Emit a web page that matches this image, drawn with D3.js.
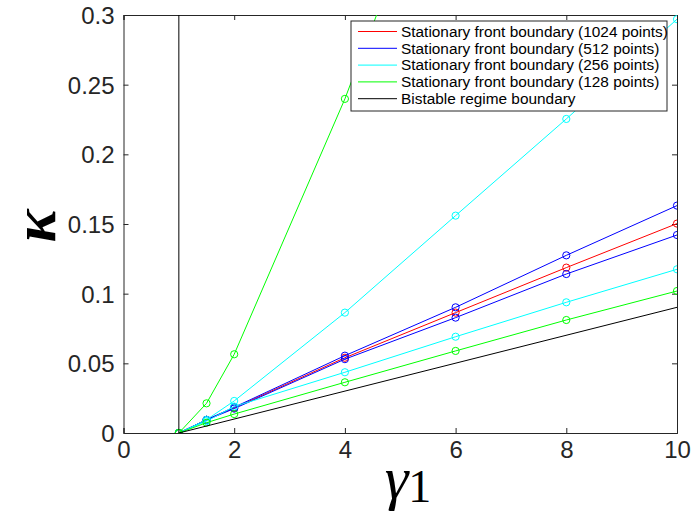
<!DOCTYPE html>
<html><head><meta charset="utf-8">
<script src="https://cdn.jsdelivr.net/npm/d3@7"></script>
<style>body{margin:0;background:#fff}svg{display:block}</style>
</head><body>
<script>
const xTicks = [0, 2, 4, 6, 8, 10];
const yTicks = [0, 0.05, 0.1, 0.15, 0.2, 0.25, 0.3];
const gammaVals = [1, 1.5, 2, 4, 6, 8, 10];
const red1024 = [0, 0.0095, 0.018, 0.054, 0.0864, 0.1187, 0.1503];
const blue512Upper = [0, 0.0095, 0.0185, 0.0555, 0.0902, 0.1275, 0.1632];
const blue512Lower = [0, 0.0093, 0.0175, 0.0530, 0.0828, 0.1141, 0.1421];
const cyan256Upper = [0, 0.0095, 0.023, 0.0864, 0.156, 0.2254, 0.297];
const cyan256Lower = [0, 0.0085, 0.019, 0.0436, 0.0691, 0.0938, 0.1175];
const green128Upper = [0, 0.0213, 0.0565, 0.2398, 0.45];
const green128Lower = [0, 0.0074, 0.0136, 0.0364, 0.0589, 0.0811, 0.1019];
const bistableX = [1, 10];
const bistableY = [0, 0.0902];
const verticalX = [1, 1];
const verticalY = [0, 0.3];
const legendLabels = ["Stationary front boundary (1024 points)", "Stationary front boundary (512 points)",
  "Stationary front boundary (256 points)", "Stationary front boundary (128 points)", "Bistable regime boundary"];
const legendColors = ["#ff0000", "#0000ff", "#00ffff", "#00ff00", "#000000"];

const W = 691, H = 517;
const m = {l: 123.5, r: 677, t: 15, b: 433};
const svg = d3.select("body").append("svg").attr("width", W).attr("height", H);
const x = d3.scaleLinear().domain([0, 10]).range([m.l, m.r]);
const y = d3.scaleLinear().domain([0, 0.3]).range([m.b, m.t]);

svg.append("defs").append("clipPath").attr("id", "clip")
  .append("rect").attr("x", m.l).attr("y", m.t).attr("width", m.r - m.l).attr("height", m.b - m.t);

const axisColor = "#262626";
const tickFont = "'Liberation Sans', Arial, sans-serif";

// axes
const gx = svg.append("g").attr("transform", `translate(0,${m.b})`)
  .call(d3.axisBottom(x).tickValues(xTicks).tickSize(-5).tickPadding(8).tickFormat(d3.format("d")));
const gxt = svg.append("g").attr("transform", `translate(0,${m.t})`)
  .call(d3.axisTop(x).tickValues(xTicks).tickSize(-5).tickFormat(""));
const gy = svg.append("g").attr("transform", `translate(${m.l},0)`)
  .call(d3.axisLeft(y).tickValues(yTicks).tickSize(-5).tickPadding(9).tickFormat(d => d3.format("")(+d.toFixed(2))));
const gyr = svg.append("g").attr("transform", `translate(${m.r},0)`)
  .call(d3.axisRight(y).tickValues(yTicks).tickSize(-5).tickFormat(""));
[gx, gxt, gy, gyr].forEach(g => {
  g.selectAll("path").attr("stroke", axisColor).attr("stroke-width", 1);
  g.selectAll("line").attr("stroke", axisColor);
  g.selectAll("text").attr("fill", axisColor).style("font-family", tickFont).style("font-size", "24px");
});
gx.selectAll("text").attr("dy", "0.72em");
gy.selectAll("text").attr("dy", "0.35em");

const plot = svg.append("g").attr("clip-path", "url(#clip)");
const line = d3.line().x(d => x(d[0])).y(d => y(d[1]));

function series(xs, ys, color, markers) {
  const pts = ys.map((v, i) => [xs[i], v]);
  plot.append("path").datum(pts).attr("d", line).attr("fill", "none")
    .attr("stroke", color).attr("stroke-width", 1);
  if (markers) {
    plot.selectAll(null).data(pts).enter().append("circle")
      .attr("cx", d => x(d[0])).attr("cy", d => y(d[1])).attr("r", 3.6)
      .attr("fill", "none").attr("stroke", color).attr("stroke-width", 1);
  }
}
series(gammaVals, red1024, "#ff0000", true);
series(gammaVals, blue512Upper, "#0000ff", true);
series(gammaVals, blue512Lower, "#0000ff", true);
series(gammaVals, cyan256Upper, "#00ffff", true);
series(gammaVals, cyan256Lower, "#00ffff", true);
series(gammaVals, green128Upper, "#00ff00", true);
series(gammaVals, green128Lower, "#00ff00", true);
series(bistableX, bistableY, "#000000", false);
series(verticalX, verticalY, "#000000", false);

// legend
const lg = svg.append("g");
const lx = 351, ly = 21, lw = 316, lh = 90;
lg.append("rect").attr("x", lx).attr("y", ly).attr("width", lw).attr("height", lh)
  .attr("fill", "#fff").attr("stroke", axisColor).attr("stroke-width", 1);
legendLabels.forEach((t, i) => {
  const yy = ly + 10.5 + i * 16.8;
  lg.append("line").attr("x1", lx + 7).attr("x2", lx + 46).attr("y1", yy).attr("y2", yy)
    .attr("stroke", legendColors[i]).attr("stroke-width", 1);
  lg.append("text").attr("x", lx + 50).attr("y", yy).attr("dy", "0.35em")
    .style("font-family", tickFont).style("font-size", "15.4px").attr("fill", "#000").text(t);
});

// axis labels
svg.append("g").attr("transform", "translate(36,226) rotate(-90)")
  .append("text").attr("x", 0).attr("y", 0)
  .attr("text-anchor", "middle").attr("dy", "0.3em")
  .style("font-family", "'Liberation Serif', serif").style("font-style", "italic").style("font-size", "62px")
  .style("font-weight", "bold")
  .text("κ");
const xl = svg.append("text").attr("x", 408).attr("y", 498).attr("text-anchor", "middle")
  .style("font-family", "'Liberation Serif', serif").style("font-size", "60px");
xl.append("tspan").style("font-style", "italic").text("γ");
xl.append("tspan").style("font-size", "46px").attr("dy", "4").text("1");
</script>
</body></html>
